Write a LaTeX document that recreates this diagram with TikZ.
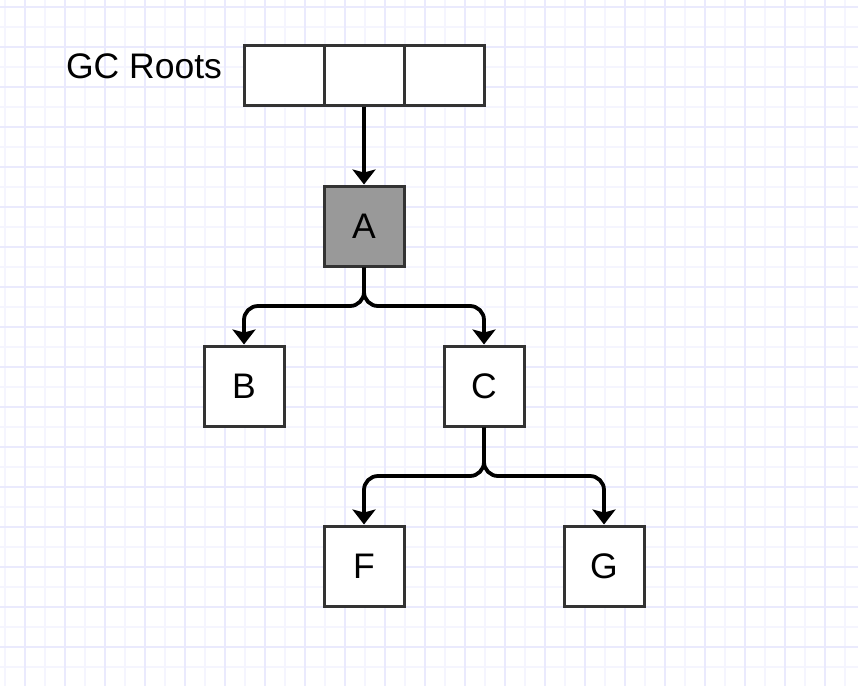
\documentclass[tikz,border=0pt]{standalone}
\usepackage{fontspec}
\setmainfont{Liberation Sans}
\usetikzlibrary{arrows.meta}
\definecolor{gridmajor}{RGB}{234,234,253}
\definecolor{gridminor}{RGB}{245,245,254}
\definecolor{boxline}{RGB}{51,51,51}
\definecolor{markfill}{RGB}{153,153,153}
\tikzset{
  cell/.style={draw=boxline, line width=3pt, fill=white, inner sep=0pt,
    minimum width=80pt, minimum height=60pt},
  objbox/.style={draw=boxline, line width=3pt, fill=white, inner sep=0pt,
    minimum width=80pt, minimum height=80pt,
    font=\fontsize{35.5}{40}\selectfont},
  ref/.style={draw=black, line width=3.8pt, rounded corners=14pt,
    -{Stealth[width=23pt, length=15pt, inset=3pt]}},
  lbl/.style={font=\fontsize{35.5}{40}\selectfont, inner sep=0pt}
}
\begin{document}
\begin{tikzpicture}[x=1pt, y=-1pt]
  % page background and squared paper
  \fill[white] (0,0) rectangle (858,686);
  \useasboundingbox (0,0) rectangle (858,686);
  \foreach \x in {5,45,...,845} \draw[gridminor, line width=1.6pt] (\x,0) -- (\x,686);
  \foreach \y in {27,67,...,667} \draw[gridminor, line width=1.6pt] (0,\y) -- (858,\y);
  \foreach \x in {25,65,...,825} \draw[gridmajor, line width=1.6pt] (\x,0) -- (\x,686);
  \foreach \y in {7,47,...,647} \draw[gridmajor, line width=1.6pt] (0,\y) -- (858,\y);

  % root set
  \node[lbl, anchor=base] (rootlabel) at (144,78) {GC Roots};
  \node[cell] (r1) at (284,75) {};
  \node[cell] (r2) at (364,75) {};
  \node[cell] (r3) at (444,75) {};

  % objects
  \node[objbox, fill=markfill] (A) at (364,226) {A};
  \node[objbox] (B) at (244,386) {B};
  \node[objbox] (C) at (484,386) {C};
  \node[objbox] (F) at (364,566) {F};
  \node[objbox] (G) at (604,566) {G};

  % references
  \coordinate (forkA) at (364,306);
  \coordinate (forkC) at (484,476);
  \draw[ref] (r2.south) -- (A.north);
  \draw[ref] (A.south) -- (forkA) -| (B.north);
  \draw[ref] (A.south) -- (forkA) -| (C.north);
  \draw[ref] (C.south) -- (forkC) -| (F.north);
  \draw[ref] (C.south) -- (forkC) -| (G.north);
\end{tikzpicture}
\end{document}
